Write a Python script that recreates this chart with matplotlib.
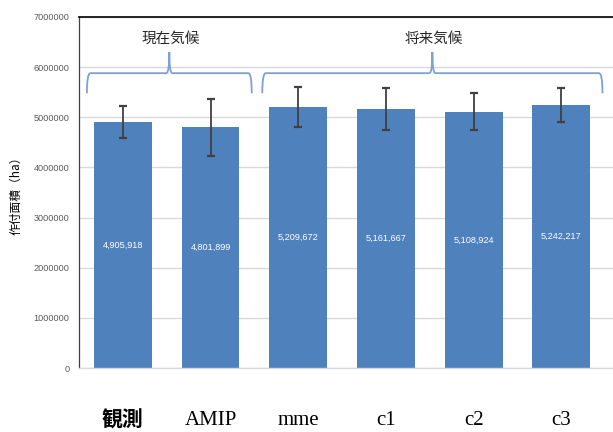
import matplotlib
matplotlib.use("Agg")
import matplotlib.pyplot as plt
from matplotlib.path import Path
from matplotlib.patches import PathPatch

plt.rcParams['font.family'] = ['Noto Sans CJK JP', 'DejaVu Sans']

categories = ["観測", "AMIP", "mme", "c1", "c2", "c3"]
areas = [4905918, 4801899, 5209672, 5161667, 5108924, 5242217]
errors = [320000, 570000, 400000, 420000, 370000, 340000]
group_names = ["現在気候", "将来気候"]
group_members = [(0, 1), (2, 5)]

bar_color = "#4F81BD"

fig = plt.figure(figsize=(6.13, 4.32), dpi=100)
ax = fig.add_axes([79 / 613, 64 / 432, 534 / 613, 351 / 432])

x = list(range(len(categories)))
ax.bar(x, areas, width=0.66, color=bar_color, zorder=2,
       yerr=errors, ecolor="#404040", capsize=3, error_kw=dict(elinewidth=1.3, capthick=1.6))

for xi, v in zip(x, areas):
    ax.text(xi, v / 2, f"{v:,}", ha="center", va="center", color="white",
            fontsize=6.6, family="Liberation Sans", zorder=3)

ax.set_xlim(-0.5, 5.59)
ax.set_ylim(0, 7000000)
ax.set_yticks(range(0, 7000001, 1000000))
ax.set_yticklabels([str(t) for t in range(0, 7000001, 1000000)],
                   fontsize=6.6, family="Liberation Sans", color="#595959")
ax.yaxis.grid(True, color="#D9D9D9", linewidth=1.0, zorder=0)
ax.set_axisbelow(True)
ax.tick_params(axis="y", length=0, pad=7)
ax.tick_params(axis="x", length=0, pad=31)
ax.set_xticks(x)
ax.set_xticklabels(categories, fontsize=15,
                   family=["Liberation Serif", "Noto Sans CJK JP"], color="black")
for lbl in ax.get_xticklabels()[:1]:
    lbl.set_fontweight("bold")

ax.set_ylabel("作付面積（ha）", fontsize=8.5, labelpad=8)

ax.spines["top"].set_color("black")
ax.spines["top"].set_linewidth(1.2)
ax.spines["left"].set_color("#404040")
ax.spines["left"].set_linewidth(0.9)
ax.spines["right"].set_visible(False)
ax.spines["bottom"].set_color("#D9D9D9")
ax.spines["bottom"].set_linewidth(1.0)


def brace(ax, x0, x1, y_end, y_mid, y_tip, r=0.04, ry=110000, tw=0.035):
    xm = (x0 + x1) / 2
    verts = [
        (x0, y_end), (x0, y_mid), (x0 + r, y_mid),
        (xm - tw, y_mid),
        (xm, y_mid), (xm, y_tip),
        (xm, y_mid), (xm + tw, y_mid),
        (x1 - r, y_mid),
        (x1, y_mid), (x1, y_end),
    ]
    codes = [Path.MOVETO, Path.CURVE3, Path.CURVE3,
             Path.LINETO,
             Path.CURVE3, Path.CURVE3,
             Path.CURVE3, Path.CURVE3,
             Path.LINETO,
             Path.CURVE3, Path.CURVE3]
    ax.add_patch(PathPatch(Path(verts, codes), facecolor="none",
                           edgecolor="#7CA0D8", linewidth=1.3, zorder=4))


for name, (a, b) in zip(group_names, group_members):
    x0 = a - 0.41
    x1 = b + 0.47
    xm = (x0 + x1) / 2
    brace(ax, x0, x1, 5480000, 5880000, 6300000)
    ax.text(xm + 0.02, 6560000, name, ha="center", va="center", fontsize=10.5, color="#262626")

fig.savefig("out.png", dpi=100)
